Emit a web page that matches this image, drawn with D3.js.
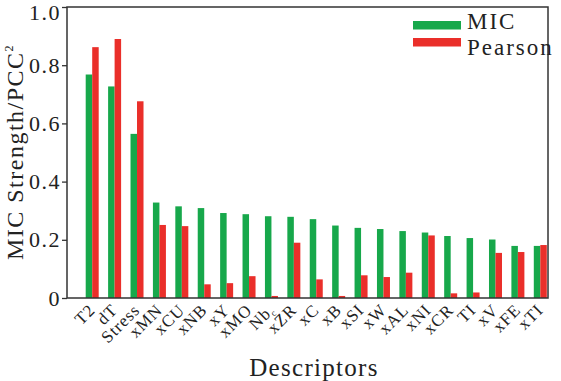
<!DOCTYPE html>
<html><head><meta charset="utf-8">
<script src="https://cdn.jsdelivr.net/npm/d3@7"></script>
<style>
body{margin:0;background:#fff;}
text{font-family:"Liberation Serif","Times New Roman",Times,serif;fill:#222;}
</style></head>
<body><svg id="c" width="561" height="381"></svg>
<script>
const categories = ["T2","dT","Stress","xMN","xCU","xNB","xY","xMO","Nbc","xZR","xC","xB","xSI","xW","xAL","xNI","xCR","TI","xV","xFE","xTI"];
const micValues = [0.768,0.727,0.564,0.328,0.315,0.309,0.292,0.288,0.281,0.279,0.271,0.249,0.241,0.237,0.230,0.225,0.213,0.206,0.201,0.179,0.179];
const pearsonValues = [0.862,0.890,0.676,0.251,0.247,0.047,0.051,0.075,0.007,0.190,0.064,0.007,0.078,0.072,0.087,0.215,0.016,0.019,0.155,0.158,0.182];
const seriesNames = ["MIC","Pearson"];
const yTicks = [0,0.2,0.4,0.6,0.8,1.0];
const colors = {MIC:"#17a84b", Pearson:"#ea2f2a"};

const svg = d3.select("#c");
const L=67, R=548, T=7, B=298;

const x = d3.scaleBand().domain(categories).range([81, 551.5]).padding(0);
const x1 = d3.scaleBand().domain(seriesNames).range([x.bandwidth()/2-6.5, x.bandwidth()/2+6.5]);
const y = d3.scaleLinear().domain([0,1]).range([B,T]);

const data = categories.map((c,i)=>({c, MIC:micValues[i], Pearson:pearsonValues[i]}));

const g = svg.append("g");
g.selectAll("g.grp").data(data).join("g").attr("class","grp")
  .attr("transform", d=>`translate(${x(d.c)},0)`)
  .selectAll("rect").data(d=>seriesNames.map(s=>({s, v:d[s]}))).join("rect")
  .attr("x", d=>x1(d.s)).attr("width", x1.bandwidth())
  .attr("y", d=>y(d.v)).attr("height", d=>B-y(d.v))
  .attr("fill", d=>colors[d.s]);

// frame
svg.append("rect").attr("x",L).attr("y",T).attr("width",R-L).attr("height",B-T)
  .attr("fill","none").attr("stroke","#333").attr("stroke-width",1.5);

// y axis
const ya = svg.append("g").attr("transform",`translate(${L},0)`)
  .call(d3.axisLeft(y).tickValues(yTicks).tickSize(5).tickPadding(1)
    .tickFormat(d=> d===0 ? "0" : d3.format(".1f")(d)));
ya.attr("font-family",null);
ya.select(".domain").remove();
ya.selectAll("line").attr("stroke","#333").attr("stroke-width",1.3);
ya.selectAll("text").attr("font-size",22).attr("letter-spacing","1.5px").attr("fill","#222")
  .attr("dy", d=> d===1 ? "0.55em" : "0.32em");

// x tick labels
svg.append("g").selectAll("text").data(categories).join("text")
  .attr("transform", d=>`translate(${x(d)+x.bandwidth()/2+4},${311}) rotate(-45)`)
  .attr("text-anchor","end").attr("font-size",17).attr("letter-spacing","1px")
  .each(function(d){
    const t=d3.select(this);
    if(d==="Nbc"){ t.append("tspan").text("Nb"); t.append("tspan").attr("font-size",9).attr("dy",3).text("c"); }
    else t.text(d);
  });

// axis titles
svg.append("text").attr("x",314).attr("y",376).attr("text-anchor","middle")
  .attr("font-size",25).attr("letter-spacing","1.3px").text("Descriptors");
const yt = svg.append("text").attr("transform","translate(23,152) rotate(-90)")
  .attr("text-anchor","middle").attr("font-size",24).attr("letter-spacing","1.5px");
yt.append("tspan").text("MIC Strength/PCC");
yt.append("tspan").attr("font-size",12).attr("dy",-10).text("2");

// legend
const lg = svg.append("g");
seriesNames.forEach((s,i)=>{
  lg.append("rect").attr("x",413).attr("y",21+i*17).attr("width",48).attr("height",8.5).attr("fill",colors[s]);
  lg.append("text").attr("x",467).attr("y",29+i*26).attr("font-size",23).attr("letter-spacing","2px").text(s);
});
</script></body></html>
